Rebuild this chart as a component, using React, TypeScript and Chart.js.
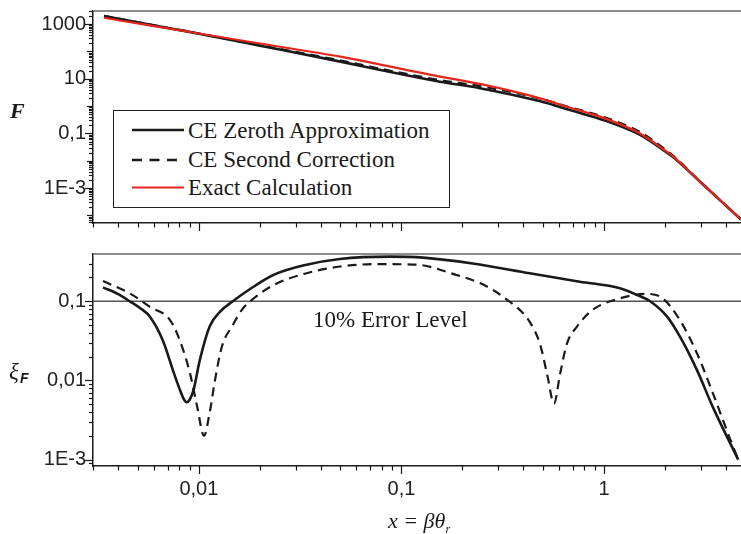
import React, { useEffect, useRef } from "react";
import { Chart, registerables } from "chart.js";

Chart.register(...registerables);

// ---------------- data ----------------
const xRange = [0.003, 4.75];
const topYRange = [5.3e-5, 3000];
const errYRange = [8.3e-4, 0.396];

const topTickValues = [1000, 10, 0.1, 0.001];
const topTickLabels = ["1000", "10", "0,1", "1E-3"];
const errTickValues = [0.1, 0.01, 0.001];
const errTickLabels = ["0,1", "0,01", "1E-3"];
const xTickValues = [0.01, 0.1, 1];
const xTickLabels = ["0,01", "0,1", "1"];

const topX = [0.0034, 0.0056, 0.0087, 0.01, 0.02, 0.05, 0.1, 0.155, 0.244, 0.48, 0.7, 1.0, 1.5, 2.0, 2.2, 3.0, 4.75];
const topExact = [1698, 912, 537, 452, 195, 64.1, 22.9, 11.9, 6.46, 1.95, 0.817, 0.363, 0.102, 0.024, 0.0141, 0.00166, 7.1e-5];
const topZeroth = [1953, 974, 540, 444, 162, 42.3, 14.5, 7.8, 4.52, 1.52, 0.67, 0.305, 0.09, 0.0224, 0.0134, 0.00164, 7.1e-5];
const topSecond = [2004, 994, 547, 450, 170, 46.5, 16.3, 8.9, 5.36, 1.9, 0.85, 0.397, 0.115, 0.0265, 0.0152, 0.00169, 7.1e-5];

const errXZeroth = [0.00336, 0.004, 0.00456, 0.0052, 0.00573, 0.00664, 0.00744, 0.008, 0.0084, 0.0087, 0.009, 0.0094, 0.0101, 0.0113, 0.0128, 0.0147, 0.0179, 0.0233, 0.034, 0.0497, 0.0877, 0.128, 0.225, 0.43, 0.76, 1.2, 1.46, 1.69, 2.05, 2.37, 2.88, 3.45, 4.6];
const errZeroth = [0.15, 0.123, 0.1, 0.08, 0.064, 0.032, 0.0135, 0.008, 0.0059, 0.0053, 0.0057, 0.0075, 0.018, 0.048, 0.075, 0.1, 0.143, 0.215, 0.29, 0.343, 0.367, 0.356, 0.3, 0.226, 0.177, 0.146, 0.12, 0.1, 0.064, 0.036, 0.0135, 0.0046, 0.001];

const errXSecond = [0.00336, 0.00456, 0.00573, 0.0072, 0.00805, 0.00903, 0.0098, 0.0106, 0.0113, 0.012, 0.013, 0.0147, 0.0163, 0.0179, 0.0233, 0.034, 0.0497, 0.078, 0.119, 0.187, 0.244, 0.295, 0.344, 0.39, 0.43, 0.483, 0.524, 0.567, 0.607, 0.656, 0.736, 0.88, 1.2, 1.63, 1.95, 2.37, 2.88, 3.45, 4.17, 4.6];
const errSecond = [0.18, 0.126, 0.085, 0.058, 0.032, 0.0124, 0.0047, 0.002, 0.0039, 0.01, 0.027, 0.05, 0.078, 0.1, 0.16, 0.226, 0.275, 0.295, 0.29, 0.215, 0.17, 0.13, 0.098, 0.075, 0.055, 0.029, 0.012, 0.0051, 0.012, 0.029, 0.048, 0.078, 0.109, 0.124, 0.109, 0.058, 0.022, 0.0069, 0.0019, 0.001];

const errorLevel = 0.1;
const errorLevelX = [0.003, 4.75];

const seriesNames = ["CE Zeroth Approximation", "CE Second Correction", "Exact Calculation"];

// ---------------- styling ----------------
const RED = "#e2261c";
const INK = "#1a1a1a";
const SANS = "'Liberation Sans', Arial, sans-serif";
const SERIF = "'Liberation Serif', 'Times New Roman', serif";

const pts = (xs: number[], ys: number[]) => xs.map((x, i) => ({ x, y: ys[i] }));

function ticksPlugin(yMajors: number[], xMajors: number[]) {
  return {
    id: "customTicks",
    afterDraw(chart: any) {
      const { ctx, chartArea } = chart;
      const xs = chart.scales.x;
      const ys = chart.scales.y;
      ctx.save();
      // top frame line
      ctx.strokeStyle = "#666";
      ctx.lineWidth = 1.5;
      ctx.beginPath();
      ctx.moveTo(chartArea.left, chartArea.top);
      ctx.lineTo(chartArea.right, chartArea.top);
      ctx.stroke();

      ctx.strokeStyle = INK;
      ctx.lineWidth = 1.2;
      // x ticks (outward, down)
      for (let n = -3; n <= 1; n++) {
        for (let k = 1; k <= 9; k++) {
          const v = k * Math.pow(10, n);
          if (v < xs.min * 0.999 || v > xs.max * 1.001) continue;
          const px = Math.round(xs.getPixelForValue(v)) + 0.5;
          const len = k === 1 && xMajors.some((m) => Math.abs(m - v) / m < 1e-6) ? 8 : 4.5;
          ctx.beginPath();
          ctx.moveTo(px, chartArea.bottom);
          ctx.lineTo(px, chartArea.bottom + len);
          ctx.stroke();
        }
      }
      // y ticks (outward, left)
      for (let n = -6; n <= 4; n++) {
        for (let k = 1; k <= 9; k++) {
          const v = k * Math.pow(10, n);
          if (v < ys.min * 0.999 || v > ys.max * 1.001) continue;
          const py = Math.round(ys.getPixelForValue(v)) + 0.5;
          const isMajor = k === 1 && yMajors.some((m) => Math.abs(m - v) / m < 1e-6);
          const len = isMajor ? 8 : k === 1 ? 6 : 4;
          ctx.beginPath();
          ctx.moveTo(chartArea.left - len, py);
          ctx.lineTo(chartArea.left, py);
          ctx.stroke();
        }
      }
      ctx.restore();
    },
  };
}

function makeOptions(
  yRange: number[],
  yTicks: number[],
  yLabels: string[],
  showX: boolean,
  xAxisHeight: number,
  topPad: number
) {
  return {
    responsive: false,
    maintainAspectRatio: false,
    animation: false,
    layout: { padding: { left: 0, right: 0, top: topPad, bottom: 0 } },
    plugins: { legend: { display: false }, tooltip: { enabled: false } },
    elements: { point: { radius: 0 } },
    scales: {
      x: {
        type: "logarithmic",
        min: xRange[0],
        max: xRange[1],
        grid: { display: false, drawTicks: false },
        border: { display: true, color: INK, width: 1.5 },
        ticks: {
          display: showX,
          autoSkip: false,
          maxRotation: 0,
          padding: 11,
          color: "#222",
          font: { family: SANS, size: 20 },
          callback: (_v: any, i: number) => xTickLabels[i],
        },
        afterBuildTicks: (s: any) => {
          s.ticks = xTickValues.map((v) => ({ value: v }));
        },
        afterFit: (s: any) => {
          s.height = xAxisHeight;
          s.paddingLeft = 0;
          s.paddingRight = 0;
          s.paddingTop = 0;
          s.paddingBottom = 0;
        },
      },
      y: {
        type: "logarithmic",
        min: yRange[0],
        max: yRange[1],
        grid: { display: false, drawTicks: false },
        border: { display: true, color: INK, width: 1.5 },
        ticks: {
          autoSkip: false,
          padding: 7,
          color: "#222",
          font: { family: SANS, size: 20 },
          callback: (_v: any, i: number) => yLabels[i],
        },
        afterBuildTicks: (s: any) => {
          s.ticks = yTicks.map((v) => ({ value: v }));
        },
        afterFit: (s: any) => {
          s.width = 93;
          s.paddingTop = 0;
          s.paddingBottom = 0;
          s.paddingLeft = 0;
          s.paddingRight = 0;
        },
      },
    },
  };
}

export default function App() {
  const topRef = useRef<HTMLCanvasElement>(null);
  const botRef = useRef<HTMLCanvasElement>(null);

  useEffect(() => {
    const top = new Chart(topRef.current as HTMLCanvasElement, {
      type: "line",
      data: {
        datasets: [
          {
            label: seriesNames[2],
            data: pts(topX, topExact),
            borderColor: RED,
            borderWidth: 2.2,
            cubicInterpolationMode: "monotone",
            order: 0,
          },
          {
            label: seriesNames[1],
            data: pts(topX, topSecond),
            borderColor: INK,
            borderWidth: 2.2,
            borderDash: [9, 6],
            cubicInterpolationMode: "monotone",
            order: 1,
          },
          {
            label: seriesNames[0],
            data: pts(topX, topZeroth),
            borderColor: INK,
            borderWidth: 2.6,
            cubicInterpolationMode: "monotone",
            order: 2,
          },
        ],
      },
      options: makeOptions(topYRange, topTickValues, topTickLabels, false, 17, 11) as any,
      plugins: [ticksPlugin(topTickValues, xTickValues)],
    });

    const bot = new Chart(botRef.current as HTMLCanvasElement, {
      type: "line",
      data: {
        datasets: [
          {
            label: "10% Error Level",
            data: pts(errorLevelX, [errorLevel, errorLevel]),
            borderColor: "#555",
            borderWidth: 1.4,
            order: 2,
          },
          {
            label: seriesNames[1],
            data: pts(errXSecond, errSecond),
            borderColor: INK,
            borderWidth: 2.2,
            borderDash: [9, 6],
            cubicInterpolationMode: "monotone",
            order: 1,
          },
          {
            label: seriesNames[0],
            data: pts(errXZeroth, errZeroth),
            borderColor: INK,
            borderWidth: 2.6,
            cubicInterpolationMode: "monotone",
            order: 0,
          },
        ],
      },
      options: makeOptions(errYRange, errTickValues, errTickLabels, true, 68, 14) as any,
      plugins: [ticksPlugin(errTickValues, xTickValues)],
    });

    return () => {
      top.destroy();
      bot.destroy();
    };
  }, []);

  const abs = (left: number, top: number, extra: any = {}) => ({
    position: "absolute" as const,
    left,
    top,
    whiteSpace: "nowrap" as const,
    lineHeight: 1,
    color: "#1a1a1a",
    ...extra,
  });

  return (
    <div style={{ position: "absolute", left: 0, top: 0, width: 741, height: 534, background: "#fff", overflow: "hidden" }}>
      <canvas ref={topRef} width={741} height={240} style={{ position: "absolute", left: 0, top: 0 }} />
      <canvas ref={botRef} width={741} height={294} style={{ position: "absolute", left: 0, top: 240 }} />

      {/* y title, top panel */}
      <span style={abs(10, 100, { fontFamily: SERIF, fontSize: 22, fontWeight: "bold", fontStyle: "italic" })}>F</span>

      {/* y title, bottom panel */}
      <span style={abs(9, 360, { fontFamily: SERIF, fontSize: 23, fontStyle: "italic" })}>ξ</span>
      <span style={abs(20, 371, { fontFamily: SANS, fontSize: 14, fontStyle: "italic", fontWeight: "bold" })}>F</span>

      {/* x title */}
      <span style={abs(388, 510, { fontFamily: SERIF, fontSize: 22, fontStyle: "italic" })}>
        x = βθ
        <span style={{ fontSize: 12, position: "relative", top: 5 }}>r</span>
      </span>

      {/* 10% error level text */}
      <span style={abs(313, 308, { fontFamily: SERIF, fontSize: 23 })}>10% Error Level</span>

      {/* legend */}
      <div
        style={{
          position: "absolute",
          left: 113,
          top: 110,
          width: 337,
          height: 98,
          boxSizing: "border-box",
          border: "1.5px solid #222",
          background: "#fff",
        }}
      />
      <svg width={60} height={90} style={{ position: "absolute", left: 128, top: 115 }}>
        <line x1={4} x2={56} y1={15} y2={15} stroke={INK} strokeWidth={2.6} />
        <line x1={4} x2={56} y1={45} y2={45} stroke={INK} strokeWidth={2.4} strokeDasharray="10 7.5" />
        <line x1={4} x2={56} y1={72.5} y2={72.5} stroke={RED} strokeWidth={2.2} />
      </svg>
      <span style={abs(188, 119, { fontFamily: SERIF, fontSize: 23 })}>{seriesNames[0]}</span>
      <span style={abs(188, 147.5, { fontFamily: SERIF, fontSize: 23 })}>{seriesNames[1]}</span>
      <span style={abs(188, 176, { fontFamily: SERIF, fontSize: 23 })}>{seriesNames[2]}</span>
    </div>
  );
}
